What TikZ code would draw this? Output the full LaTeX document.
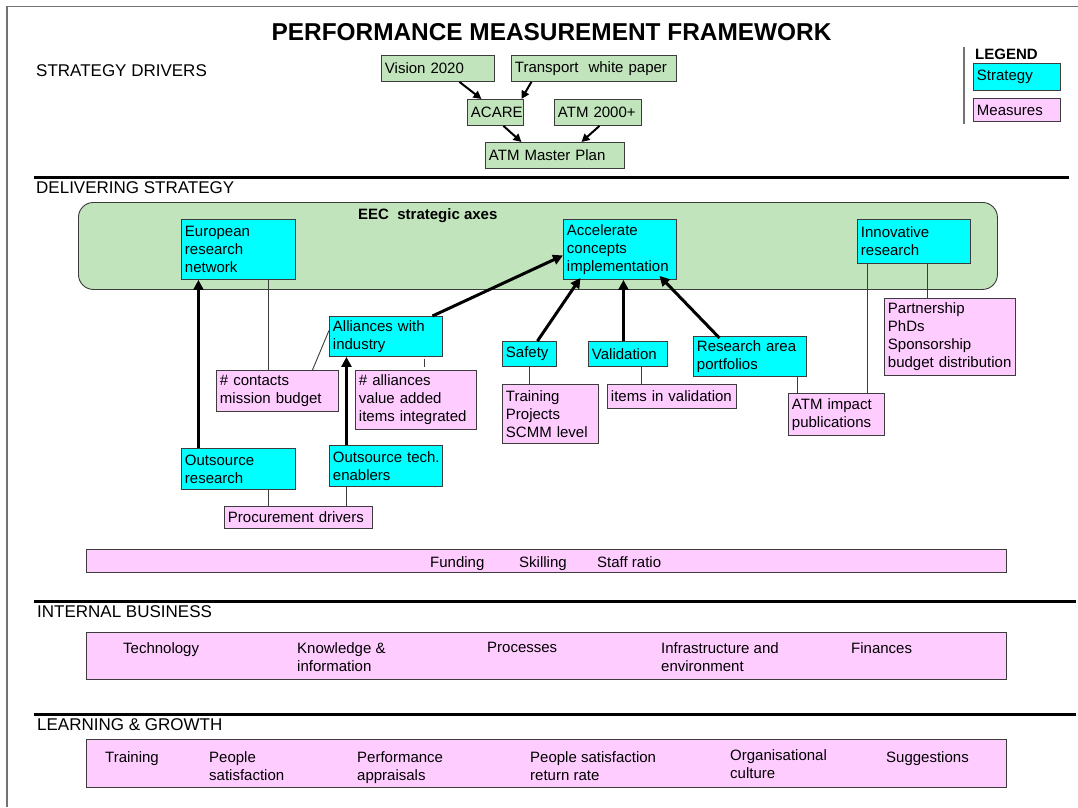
\documentclass[tikz,border=0pt]{standalone}
\usepackage{fontspec}
\setmainfont{Liberation Sans}
\usetikzlibrary{arrows.meta,calc}
\definecolor{stratcyan}{RGB}{0,255,255}
\definecolor{measpink}{RGB}{255,204,255}
\definecolor{drvgreen}{RGB}{194,228,188}
\definecolor{edgegray}{RGB}{60,60,60}
\begin{document}
\begin{tikzpicture}[x=1pt,y=-1pt,
  boxbase/.style={draw=edgegray, line width=0.9pt, anchor=north west,
    inner xsep=3.5pt, inner ysep=0pt, align=left,
    font=\fontsize{15}{18}\selectfont},
  sz/.code 2 args={\pgfmathsetmacro\boxtw{#1-7}%
    \edef\boxsz{\noexpand\tikzset{text width=\boxtw pt, minimum height=#2pt}}\boxsz},
  strat/.style={boxbase, fill=stratcyan},
  meas/.style={boxbase, fill=measpink},
  drv/.style={boxbase, fill=drvgreen},
  bartext/.style={anchor=north west, inner sep=0pt, align=left,
    font=\fontsize{15}{18}\selectfont},
  section/.style={anchor=west, inner sep=0pt, font=\fontsize{17}{20}\selectfont},
  rule/.style={line width=3pt},
  bigarrow/.style={line width=3pt, -{Triangle[length=10pt,width=10pt]}},
  smallarrow/.style={line width=2pt, -{Triangle[length=8pt,width=8pt]}},
  link/.style={line width=0.9pt, draw=edgegray}
]
\useasboundingbox (0,0) rectangle (1078,807);
\fill[white] (0,0) rectangle (1078,807);

% outer frame (left and top edges)
\draw[black!55, line width=1.2pt] (7,807) -- (7,6.5) -- (1078,6.5);

% title
\node[font=\fontsize{24.4}{28}\selectfont\bfseries, inner sep=0pt] (title) at (551.5,32)
  {PERFORMANCE MEASUREMENT FRAMEWORK};

% ---------- strategy drivers ----------
\node[section] (hdrivers) at (36,70.5) {STRATEGY DRIVERS};

\node[drv, sz={113}{26}] (vis) at (381,55) {Vision 2020};
\node[drv, sz={165}{26}] (tra) at (511,55) {Transport~~white paper};
\node[drv, sz={56}{26}] (aca) at (467,99) {ACARE};
\node[drv, sz={87}{26}] (atk) at (554,99) {ATM 2000+};
\node[drv, sz={139}{26}] (amp) at (485,142) {ATM Master Plan};

\draw[smallarrow] ([xshift=21.5pt]vis.south) -- ([xshift=-14pt]aca.north);
\draw[smallarrow] ([xshift=-62.5pt]tra.south) -- ([xshift=26pt]aca.north);
\draw[smallarrow] ([xshift=8pt]aca.south) -- ([xshift=-33.5pt]amp.north);
\draw[smallarrow] ([xshift=1.5pt]atk.south) -- ([xshift=26.5pt]amp.north);

% legend
\draw[black!55, line width=1.4pt] (964,47) -- (964,124);
\node[anchor=base west, inner sep=0pt, font=\fontsize{15}{18}\selectfont\bfseries]
  (legend) at (975,59.5) {LEGEND};
\node[strat, sz={87}{27}] (lgstrat) at (973,63) {Strategy};
\node[meas, sz={87}{23}] (lgmeas) at (973,98) {Measures};

% ---------- delivering strategy ----------
\draw[rule] (34,177) -- (1069,177);
\node[section] (hdeliver) at (36,188) {DELIVERING STRATEGY};

\node[draw=edgegray, line width=0.9pt, fill=drvgreen, rounded corners=15pt,
  anchor=north west, minimum width=919pt, minimum height=87pt, inner sep=0pt]
  (axes) at (78,202) {};
\node[anchor=base west, inner sep=0pt, font=\fontsize{15}{18}\selectfont\bfseries]
  (axestitle) at (358,219.5) {EEC~~strategic axes};

\node[strat, sz={114}{60}] (eur) at (181,219) {European\\research\\network};
\node[strat, sz={113}{60}] (acc) at (563,219) {Accelerate\\concepts\\implementation};
\node[strat, sz={113}{44}] (inn) at (857,219) {Innovative\\research};

\node[strat, sz={113}{40}] (all) at (329,316) {Alliances with\\industry};
\node[meas, sz={122}{41}] (con) at (216,370) {\# contacts\\mission budget};
\node[meas, sz={121}{59}] (ali) at (355,370) {\# alliances\\value added\\items~integrated};

\node[strat, sz={54}{25}] (saf) at (502,341) {Safety};
\node[strat, sz={79}{25}] (val) at (588,341) {Validation};
\node[strat, sz={113}{40}] (raf) at (693,336) {Research area\\portfolios};

\node[meas, sz={96}{59}] (trn) at (502,384) {Training\\Projects\\SCMM level};
\node[meas, sz={129}{24}] (iiv) at (607,384) {items~in~validation};
\node[meas, sz={96}{42}] (imp) at (788,393) {ATM impact\\publications};
\node[meas, sz={131}{77}] (par) at (884,298) {Partnership\\PhDs\\Sponsorship\\budget~distribution};

\node[strat, sz={114}{41}] (ors) at (181,448) {Outsource\\research};
\node[strat, sz={113}{41}] (ote) at (329,445) {Outsource~tech.\\enablers};
\node[meas, sz={148}{22}] (pro) at (224,506) {Procurement drivers};

% strategy links
\draw[bigarrow] ([xshift=-40pt]ors.north) -- ([xshift=-40pt]eur.south);
\draw[bigarrow] ([xshift=-39.5pt]ote.north) -- ([xshift=-39.5pt]all.south);
\draw[bigarrow] ([xshift=46.5pt]all.north) -- ([yshift=-6pt]acc.west);
\draw[bigarrow] ([xshift=8pt]saf.north) -- ([xshift=-39.5pt,yshift=2pt]acc.south);
\draw[bigarrow] ([xshift=-4.5pt]val.north) -- ([xshift=3.5pt]acc.south);
\draw[bigarrow] ([xshift=-30.5pt,yshift=-2pt]raf.north) -- ([xshift=39.5pt,yshift=4pt]acc.south);

% measure links
\draw[link] ([xshift=30pt]eur.south) -- ([xshift=-9pt]con.north);
\draw[link] ([yshift=6pt]all.west) -- ([xshift=35pt]con.north);
\draw[link, shorten <=2pt, shorten >=3pt] ([xshift=38.5pt]all.south) -- ([xshift=8.5pt]ali.north);
\draw[link] ([xshift=30pt]ors.south) -- ([xshift=-30pt]pro.north);
\draw[link] ([xshift=-39.5pt]ote.south) -- ([xshift=48pt]pro.north);
\draw[link] (saf.south) -- ([xshift=-21pt]trn.north);
\draw[link] ([xshift=13.5pt]val.south) -- ([xshift=-30.5pt]iiv.north);
\draw[link] ([xshift=47.5pt]raf.south) -- ([xshift=-39pt]imp.north);
\draw[link] ([xshift=-46.5pt]inn.south) -- ([xshift=31pt]imp.north);
\draw[link] ([xshift=13.5pt]inn.south) -- ([xshift=-22.5pt]par.north);

% resources bar
\node[meas, minimum width=920pt, minimum height=23pt] (res) at (86,549) {};
\node[bartext] (funding) at (430,556) {Funding};
\node[bartext] (skilling) at (519,556) {Skilling};
\node[bartext] (staff) at (597,556) {Staff ratio};

% ---------- internal business ----------
\draw[rule] (34,601) -- (1076,601);
\node[section] (hinternal) at (37,612) {INTERNAL BUSINESS};
\node[meas, minimum width=920pt, minimum height=47pt] (ibbar) at (86,632) {};
\node[bartext] (tech) at (123,642) {Technology};
\node[bartext] (know) at (297,642) {Knowledge \&\\information};
\node[bartext] (proc) at (487,642) {Processes};
\node[bartext] (infra) at (661,642) {Infrastructure and\\environment};
\node[bartext] (fin) at (851,642) {Finances};

% ---------- learning & growth ----------
\draw[rule] (34,714) -- (1076,714);
\node[section] (hlearn) at (37,725) {LEARNING \& GROWTH};
\node[meas, minimum width=920pt, minimum height=48pt] (lgbar) at (86,739) {};
\node[bartext] (train) at (105,751) {Training};
\node[bartext] (psat) at (209,751) {People\\satisfaction};
\node[bartext] (perf) at (357,751) {Performance\\appraisals};
\node[bartext] (psret) at (530,751) {People satisfaction\\return rate};
\node[bartext] (org) at (730,749) {Organisational\\culture};
\node[bartext] (sugg) at (886,751) {Suggestions};
\end{tikzpicture}
\end{document}
